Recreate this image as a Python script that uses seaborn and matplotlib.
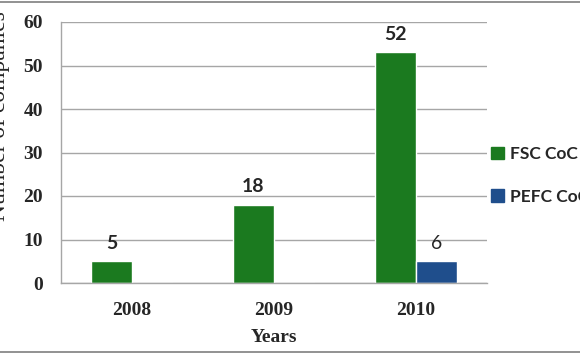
import pandas as pd
import matplotlib.pyplot as plt
import matplotlib.lines as mlines
import seaborn as sns

# values
years = ['2008', '2009', '2010']
fsc_coc = [5, 18, 53]      # drawn bar heights
pefc_coc = [0, 0, 5]
fsc_labels = ['5', '18', '52']   # printed data labels
pefc_labels = ['', '', '6']
series = ['FSC CoC', 'PEFC CoC']
colors = ['#1b7a1f', '#1f4e8c']

df = pd.DataFrame({
    'Years': years * 2,
    'Companies': fsc_coc + pefc_coc,
    'Series': [series[0]] * 3 + [series[1]] * 3,
})

sns.set_theme(style='white')
plt.rcParams['font.family'] = ['Liberation Serif', 'DejaVu Serif']

fig = plt.figure(figsize=(5.8, 3.59), dpi=100)
ax = fig.add_axes([61 / 580, 1 - 283 / 359, 426 / 580, 261 / 359])

sns.barplot(data=df, x='Years', y='Companies', hue='Series', palette=colors,
            width=0.58, saturation=1, ax=ax, legend=False)

ax.set_ylim(0, 60)
ax.set_yticks(range(0, 61, 10))
ax.grid(axis='y', color='#a6a6a6', linewidth=1)
ax.set_axisbelow(True)
for s in ['top', 'right']:
    ax.spines[s].set_visible(False)
for s in ['left', 'bottom']:
    ax.spines[s].set_color('#a6a6a6')
    ax.spines[s].set_linewidth(1)
ax.tick_params(axis='both', length=0)
ax.tick_params(axis='y', pad=13, labelsize=14)
ax.tick_params(axis='x', pad=14, labelsize=14)
for lab in ax.get_xticklabels() + ax.get_yticklabels():
    lab.set_fontweight('bold')

ax.set_xlabel('Years', fontsize=14, fontweight='bold')
ax.xaxis.set_label_coords(0.5, -0.175)
ax.set_ylabel('Number of companies', fontsize=17)
ax.yaxis.set_label_coords(-0.12, 0.64)

ax.bar_label(ax.containers[0], labels=fsc_labels, padding=7,
             fontsize=14, fontweight='bold', family=['Lato', 'DejaVu Sans'])
ax.bar_label(ax.containers[1], labels=pefc_labels, padding=7,
             fontsize=14, family=['Lato', 'DejaVu Sans'])

handles = [plt.Rectangle((0, 0), 1, 1, color=c) for c in colors]
fig.legend(handles, series, loc='upper left', bbox_to_anchor=(491 / 580, 1 - 146 / 359),
           frameon=False, borderpad=0, borderaxespad=0, handlelength=0.75,
           handleheight=0.75, handletextpad=0.35, labelspacing=1.55,
           prop={'family': ['Lato', 'DejaVu Sans'], 'weight': 'bold', 'size': 12.5})

# thin frame lines at top and bottom of the picture
for yy in [1 - 2 / 359, 1 - 352 / 359]:
    fig.add_artist(mlines.Line2D([0, 1], [yy, yy], color='#7f7f7f', linewidth=1.2))

fig.savefig('out.png', dpi=100)
